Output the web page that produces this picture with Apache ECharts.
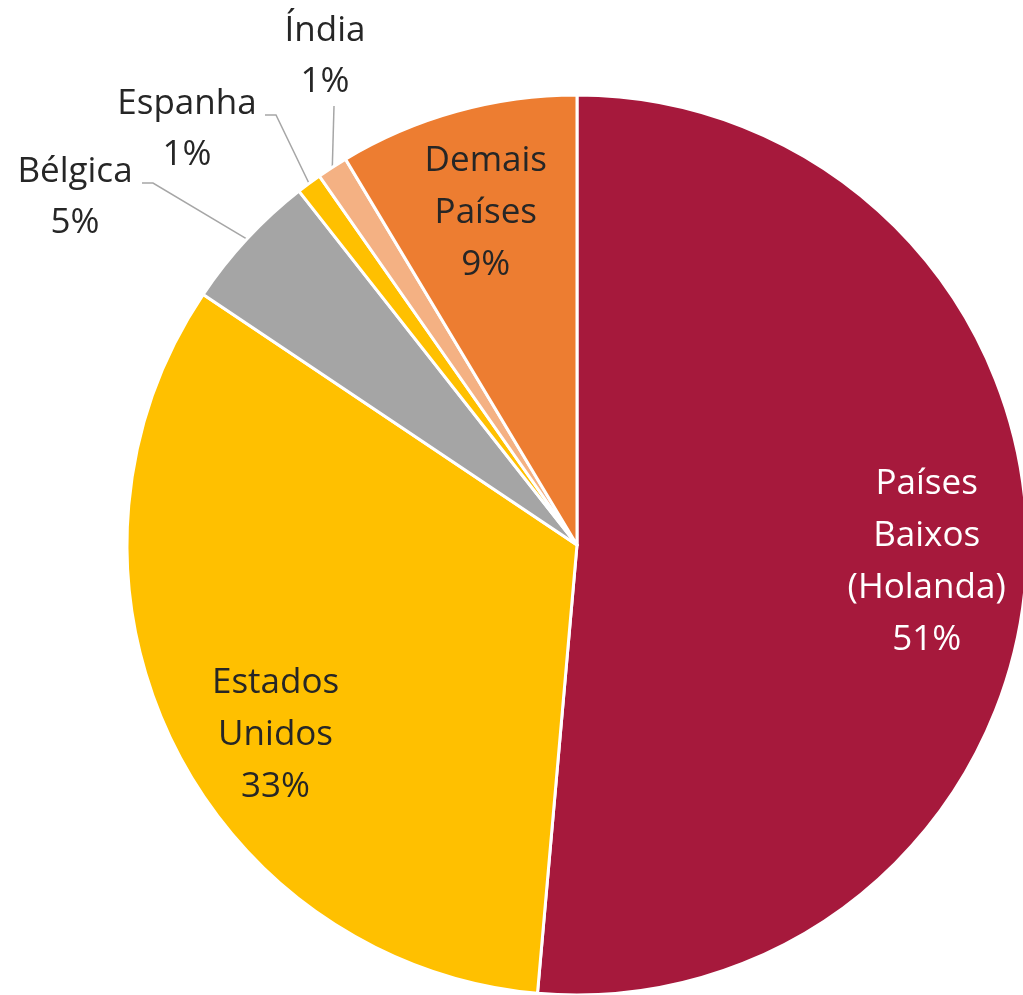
<!DOCTYPE html>
<html>
<head>
<meta charset="utf-8">
<script src="https://cdn.jsdelivr.net/npm/echarts@6/dist/echarts.min.js"></script>
<style>
  html, body { margin: 0; padding: 0; background: #ffffff; }
  #chart { width: 1023px; height: 995px; }
</style>
</head>
<body>
<div id="chart"></div>
<script>
// Share by destination country (clockwise from 12 o'clock)
const countries = ['Países\nBaixos\n(Holanda)', 'Estados\nUnidos', 'Bélgica', 'Espanha', 'Índia', 'Demais\nPaíses'];
const shares = [51.4, 33.0, 5.0, 0.9, 1.1, 8.6];
const colors = ['#A6193C', '#FFC000', '#A5A5A5', '#FFC000', '#F4B183', '#ED7D31'];
const labelColors = ['#ffffff', '#262626', '#262626', '#262626', '#262626', '#262626'];
const outsideLabels = ['Bélgica', 'Espanha', 'Índia'];

const FONT = "'Open Sans', 'Noto Sans', sans-serif";
const CENTER = [577, 545];
const R = 450;

// where the small-slice labels sit, and the bends of their leader lines
const outsidePlacement = {
  'Bélgica': { x: 75, y: 198, bend: [[153, 183], [142, 183]] },
  'Espanha': { x: 187, y: 130, bend: [[276, 115], [265, 115]] },
  'Índia':   { x: 325, y: 57,  bend: [[334, 106]] }
};

// small nudges for the in-slice labels
const insideNudge = {
  'Países\nBaixos\n(Holanda)': [-3, 2],
  'Estados\nUnidos': [17, 38],
  'Demais\nPaíses': [3, 8]
};

const chart = echarts.init(document.getElementById('chart'), null, { renderer: 'canvas' });

const mainData = countries.map((name, i) => {
  const outside = outsideLabels.indexOf(name) >= 0;
  return {
    name: name,
    value: shares[i],
    itemStyle: { color: colors[i] },
    label: { show: outside, position: 'outside', color: labelColors[i] },
    labelLine: { show: outside }
  };
});

const innerLabelData = countries.map((name, i) => {
  const outside = outsideLabels.indexOf(name) >= 0;
  return {
    name: name,
    value: shares[i],
    label: { show: !outside, color: labelColors[i] }
  };
});

chart.setOption({
  animation: false,
  backgroundColor: '#ffffff',
  series: [
    {
      type: 'pie',
      center: CENTER,
      radius: [0, R],
      startAngle: 90,
      clockwise: true,
      percentPrecision: 0,
      avoidLabelOverlap: false,
      itemStyle: { borderColor: '#ffffff', borderWidth: 3 },
      label: {
        formatter: '{b}\n{d}%',
        fontFamily: FONT,
        fontSize: 35,
        lineHeight: 51,
        align: 'center'
      },
      labelLine: {
        length: 20,
        length2: 10,
        lineStyle: { color: '#A6A6A6', width: 1.5 }
      },
      emphasis: { disabled: true },
      labelLayout: function (p) {
        const name = countries[p.dataIndex];
        const place = outsidePlacement[name];
        if (!place) return {};
        const pts = p.labelLinePoints;
        const start = pts && pts.length ? pts[0] : null;
        const out = { x: place.x, y: place.y, align: 'center', verticalAlign: 'middle' };
        if (start) out.labelLinePoints = [start].concat(place.bend);
        return out;
      },
      data: mainData
    },
    {
      // transparent ring that carries the in-slice labels at ~78% of the radius
      type: 'pie',
      center: CENTER,
      radius: [250, R],
      startAngle: 90,
      clockwise: true,
      percentPrecision: 0,
      silent: true,
      itemStyle: { color: 'rgba(0,0,0,0)', borderWidth: 0 },
      label: {
        position: 'inside',
        formatter: '{b}\n{d}%',
        fontFamily: FONT,
        fontSize: 35,
        lineHeight: 52,
        align: 'center'
      },
      labelLine: { show: false },
      emphasis: { disabled: true },
      labelLayout: function (p) {
        const nudge = insideNudge[countries[p.dataIndex]];
        return nudge ? { dx: nudge[0], dy: nudge[1] } : {};
      },
      data: innerLabelData
    }
  ]
});
</script>
</body>
</html>
